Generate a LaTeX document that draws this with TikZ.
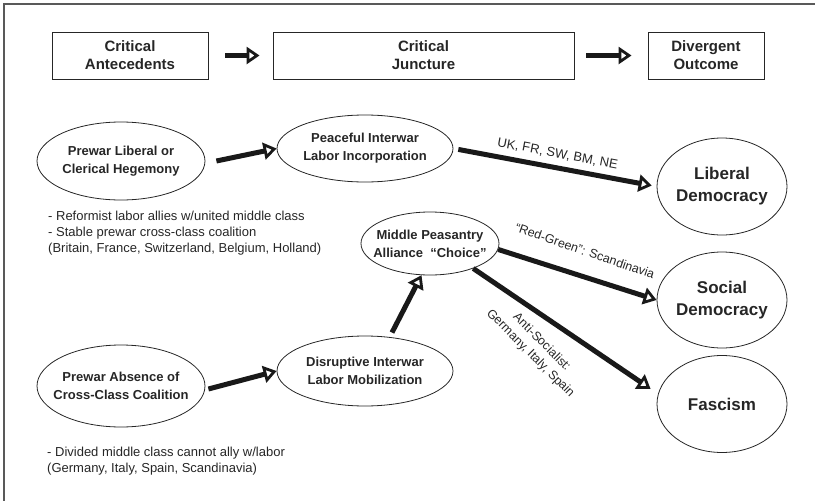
\documentclass[tikz,border=0pt]{standalone}
\usepackage{fontspec}
\setmainfont{Liberation Sans}
\usetikzlibrary{arrows.meta,shapes.geometric,calc}
\begin{document}
\begin{tikzpicture}[x=1pt,y=-1pt,
 box/.style={draw=black!85, line width=0.9pt, minimum height=47pt, inner sep=0pt, align=center, font=\fontsize{15}{18}\selectfont\bfseries, text=black!85},
 ell/.style={draw=black!85, ellipse, line width=0.8pt, inner sep=0pt},
 etext/.style={inner sep=0pt, align=center, font=\fontsize{13}{18}\selectfont\bfseries, text=black!85},
 otext/.style={inner sep=0pt, align=center, font=\fontsize{17}{22}\selectfont\bfseries, text=black!85},
 fat/.style={line width=5pt, draw=black!90, -{Triangle[open, length=13pt, width=17pt, line width'=2.8pt]}},
 note/.style={align=left, inner sep=0pt, anchor=west, font=\fontsize{13}{16}\selectfont, text=black!85},
 lbl/.style={inner sep=0pt, font=\fontsize{12.5}{16}\selectfont, align=center, text=black!85}]
\useasboundingbox (0,0) rectangle (815,501);
\draw[gray!70!black, line width=1.2pt] (4,501) -- (4,4) -- (815,4);

% top row
\node[box, minimum width=156pt] (b1) at (130,55.5) {Critical\\Antecedents};
\node[box, minimum width=301pt] (b2) at (423.5,55.5) {Critical\\Juncture};
\node[box, minimum width=116pt] (b3) at (706,55.5) {Divergent\\Outcome};
\draw[fat, shorten <=17pt, shorten >=13pt] (b1) -- (b2);
\draw[fat, shorten <=12pt, shorten >=16pt] (b2) -- (b3);

% ellipses
\node[ell, minimum width=168pt, minimum height=78pt] (pl) at (121,161) {};
\node[etext] (plt) at (pl) {Prewar Liberal or\\Clerical Hegemony};
\node[ell, minimum width=176pt, minimum height=67pt] (pi) at (365,148.5) {};
\node[etext] (pit) at (pi) {Peaceful Interwar\\Labor Incorporation};
\node[ell, minimum width=168pt, minimum height=82pt] (pa) at (121,386) {};
\node[etext] (pat) at (pa) {Prewar Absence of\\Cross-Class Coalition};
\node[ell, minimum width=176pt, minimum height=70pt] (di) at (365,371) {};
\node[etext] (dit) at (di) {Disruptive Interwar\\Labor Mobilization};
\node[ell, minimum width=138pt, minimum height=63pt] (mp) at (430,243.5) {};
\node[etext] (mpt) at (mp) {Middle Peasantry\\Alliance~ “Choice”};
\node[ell, minimum width=130pt, minimum height=97pt] (ld) at (722,186.5) {};
\node[otext] (ldt) at (ld) {Liberal\\Democracy};
\node[ell, minimum width=130pt, minimum height=96pt] (sd) at (722,300) {};
\node[otext] (sdt) at (sd) {Social\\Democracy};
\node[ell, minimum width=130pt, minimum height=97pt] (fa) at (722,404) {};
\node[otext] (fat) at (fa) {Fascism};

% notes
\node[note] (n1) at (48,233) {- Reformist labor allies w/united middle class\\- Stable prewar cross-class coalition\\(Britain, France, Switzerland, Belgium, Holland)};
\node[note] (n2) at (47,461.5) {- Divided middle class cannot ally w/labor\\(Germany, Italy, Spain, Scandinavia)};

% arrows
\draw[fat] ([xshift=11pt]pl.east) -- (pi.west);
\draw[fat] ([xshift=3pt,yshift=-3pt]pa.east) -- (di.west);
\draw[fat, shorten <=5pt] (di.54) -- (mp.255);
\draw[fat, shorten <=5pt, shorten >=5pt] (pi.east) -- (ld.west)
  node[lbl, pos=.5, sloped, above=6pt, font=\fontsize{13}{15}\selectfont] (l1) {UK, FR, SW, BM, NE};
\draw[fat] (mp.-5) -- (sd.west);
\draw[fat, shorten >=9pt] (mp.-30) -- (fa.171);

\node[lbl, rotate=-19] (l2) at (585,251) {“Red-Green”: Scandinavia};
\node[lbl, rotate=-45] (l3) at (536,348) {Anti-Socialist:\\Germany, Italy, Spain};
\end{tikzpicture}
\end{document}
